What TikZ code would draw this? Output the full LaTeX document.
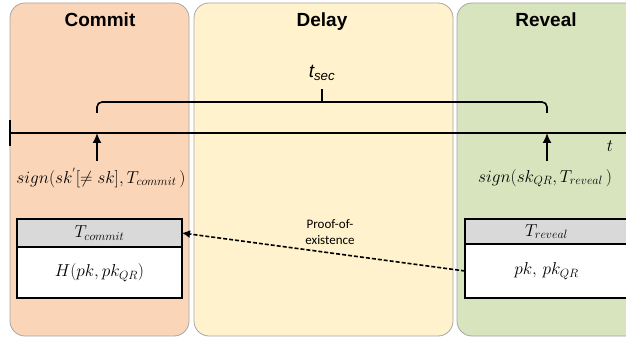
\documentclass[tikz,border=0pt]{standalone}
\usepackage{fontspec}
\setsansfont{Liberation Sans}
\newfontfamily\calibri{Carlito}
\usetikzlibrary{positioning,arrows.meta}

\definecolor{commitfill}{HTML}{FBD5B7}
\definecolor{delayfill}{HTML}{FFF2CC}
\definecolor{revealfill}{HTML}{D7E4BD}
\definecolor{headfill}{HTML}{D9D9D9}
\definecolor{panelline}{HTML}{A6A6A6}

\tikzset{
  panel/.style={draw=panelline, line width=0.8pt, rounded corners=15pt,
    minimum height=333pt, inner sep=0pt},
  phase/.style={font=\sffamily\bfseries\fontsize{19}{22}\selectfont, anchor=base},
  axis/.style={line width=1.6pt},
  brace/.style={line width=1.6pt, rounded corners=5pt},
  timemark/.style={line width=1.6pt, -{Latex[length=10pt,width=9pt]}},
  sig/.style={font=\fontsize{17}{20}\selectfont, inner sep=1pt},
  boxhead/.style={draw, line width=1.6pt, fill=headfill, outer sep=0pt,
    font=\fontsize{17}{20}\selectfont},
  boxbody/.style={draw, line width=1.6pt, fill=white, outer sep=0pt,
    font=\fontsize{17}{20}\selectfont},
  proof/.style={line width=1.6pt, dash pattern=on 4pt off 2pt,
    -{Latex[length=8pt,width=8pt]}},
  prooflabel/.style={font=\calibri\fontsize{13}{16}\selectfont, align=center}
}

\begin{document}
\begin{tikzpicture}[x=1pt, y=-1pt]
\useasboundingbox (0,0) rectangle (626,339);
\clip (0,0) rectangle (626,339);

% phases
\node[panel, fill=commitfill, minimum width=179pt] (commit) at (99.5,169.5) {};
\node[panel, fill=delayfill, minimum width=259pt] (delay) at (323.5,169.5) {};
\node[panel, fill=revealfill, minimum width=190pt] (reveal) at (552,169.5) {};

\node[phase] (committitle) at (100,27) {Commit};
\node[phase] (delaytitle) at (322,27) {Delay};
\node[phase] (revealtitle) at (546,27) {Reveal};

% time line
\coordinate (tl0) at (10,133);
\coordinate (tl1) at (640,133);
\draw[axis] (tl0) -- (tl1);
\draw[axis] ([yshift=13pt]tl0) -- ([yshift=-13pt]tl0);
\node[font=\fontsize{18}{20}\selectfont] (tlab) at (610,146) {$t$};

\coordinate (cmark) at (97,133);
\coordinate (rmark) at (547,133);
\coordinate (bmid) at (322,102);

% security period
\draw[brace] ([yshift=20pt]cmark) |- ([yshift=31pt]rmark) -- ([yshift=20pt]rmark);
\draw[axis] (bmid) -- ++(0,-13);
\node[font=\sffamily\itshape\fontsize{19}{22}\selectfont] (tsec) at (322,73) {t\textsubscript{sec}};

% signatures
\draw[timemark] ([yshift=-28pt]cmark) -- (cmark);
\draw[timemark] ([yshift=-28pt]rmark) -- (rmark);
\node[sig] (csig) at (101,178) {$sign(sk^{'}[\neq sk], T_{commit}\,)$};
\node[sig] (rsig) at (545,178) {$sign\bigl(sk_{QR}, T_{reveal}\,\bigr)$};

% transactions
\node[boxhead, minimum width=165pt, minimum height=28pt] (chead) at (99.5,233) {$T_{commit}$};
\node[boxbody, minimum width=165pt, minimum height=51pt, below=0pt of chead] (cbody) {$H\bigl(pk, pk_{QR}\bigr)$};
\node[boxhead, minimum width=163pt, minimum height=25pt] (rhead) at (546.5,231.5) {$T_{reveal}$};
\node[boxbody, minimum width=163pt, minimum height=54pt, below=0pt of rhead] (rbody) {$pk,\, pk_{QR}$};

\draw[proof] (rbody.west) -- (chead.east);
\node[prooflabel] (plabel) at (330,232) {Proof-of-\\existence};
\end{tikzpicture}
\end{document}
